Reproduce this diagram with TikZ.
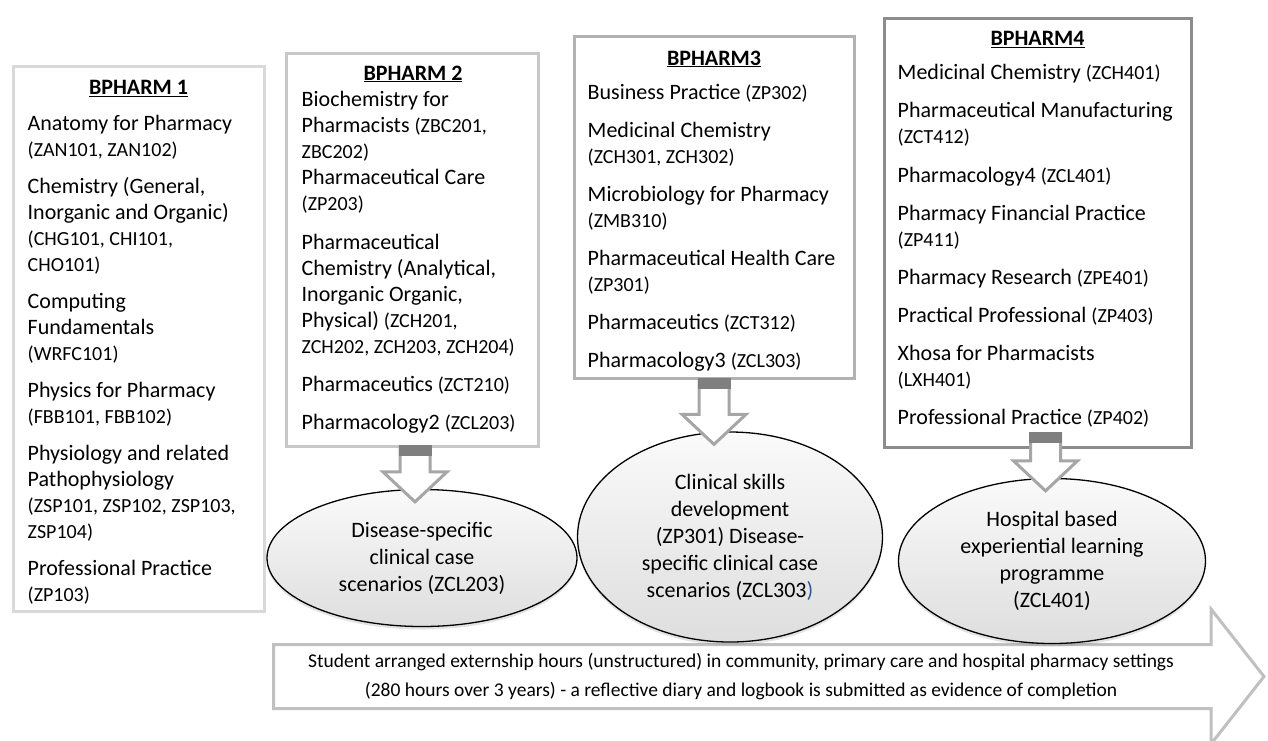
\documentclass[tikz,border=0pt]{standalone}
\usepackage{fontspec}
\setmainfont{Carlito}
\usepackage{tikz}
\usetikzlibrary{positioning, calc, shapes.geometric, shadows}
\definecolor{line_1}{HTML}{D9D9D9}
\definecolor{line_2}{HTML}{C8C8C8}
\definecolor{line_3}{HTML}{B2B2B2}
\definecolor{line_4}{HTML}{8C8C8C}
\definecolor{arrow_line}{HTML}{A6A6A6}
\definecolor{arrow_cap}{HTML}{7F7F7F}
\definecolor{banner_line}{HTML}{C0C0C0}
\definecolor{paren_blue}{HTML}{2E5C9A}
\newcommand{\code}[1]{{\fontsize{20}{26}\selectfont #1}}
\tikzset{
  body_font/.style = {font=\fontsize{22}{26}\selectfont},
  oval_font/.style = {font=\fontsize{22}{27}\selectfont},
  banner_font/.style = {font=\fontsize{19.5}{29}\selectfont}
}
\tikzset{
  year/.style = {draw, line width=3pt, fill=white, inner sep=0, anchor=north west},
  year_title/.style = {body_font, inner sep=0, anchor=north},
  subjects/.style = {body_font, align=left, inner sep=0, anchor=north west},
  outcome/.style = {ellipse, draw, line width=1.3pt, top color=gray!4, bottom color=gray!26,
    oval_font, align=center, inner sep=0,
    drop shadow={shadow xshift=0pt, shadow yshift=-3pt, opacity=.22}},
  block_arrow/.style = {draw=arrow_line, fill=white, line width=3pt},
  banner/.style = {banner_font, align=center, inner sep=0},
  banner_arrow/.style = {draw=banner_line, fill=white, line width=3pt}
}
% down arrow from a box (#1) into an oval (#2)
\newcommand{\blockarrow}[2]{%
  \draw[block_arrow] let \p1 = (#1), \p2 = (#2) in
    (\x1-15pt, \y1) -- (\x1-15pt, \y2+17pt) -- (\x1-32pt, \y2+17pt)
    -- (\x1, \y2-13pt) -- (\x1+32pt, \y2+17pt) -- (\x1+15pt, \y2+17pt)
    -- (\x1+15pt, \y1) -- cycle;
  \fill[arrow_cap] let \p1 = (#1) in
    (\x1-16.5pt, \y1+1.5pt) rectangle (\x1+16.5pt, \y1-9pt);
}
\begin{document}
\begin{tikzpicture}[x=1pt, y=-1pt]
    \useasboundingbox (0,0) rectangle (1268,740);

    % Externship arrow
    \draw[banner_arrow] (273.5,644.5) -- (1211,644.5) -- (1211,609) -- (1264,676.5)
        -- (1211,744) -- (1211,708.5) -- (273.5,708.5) -- cycle;
    \node[banner] at (741,677) (extern) {
        Student arranged externship hours (unstructured) in community, primary care and hospital pharmacy settings \\
        (280 hours over 3 years) - a reflective diary and logbook is submitted as evidence of completion
        };

    % Years
    \node[year, draw=line_1, minimum width=251, minimum height=545] at (11.5,64.5) (b1) {};
    \node[year, draw=line_2, minimum width=252, minimum height=393] at (284.5,51.5) (b2) {};
    \node[year, draw=line_3, minimum width=280, minimum height=342] at (572.5,34.5) (b3) {};
    \node[year, draw=line_4, minimum width=307, minimum height=429] at (882.5,16.5) (b4) {};

    % Titles
    \node[year_title] at ([yshift=-16pt]b1.north) (b1_title) {\underline{\textbf{BPHARM 1}}};
    \node[year_title] at ([xshift=1pt, yshift=-14pt]b2.north) (b2_title) {\underline{\textbf{BPHARM 2}}};
    \node[year_title] at ([yshift=-16pt]b3.north) (b3_title) {\underline{\textbf{BPHARM3}}};
    \node[year_title] at ([yshift=-15pt]b4.north) (b4_title) {\underline{\textbf{BPHARM4}}};

    % Subjects
    \node[subjects] at ([xshift=16pt, yshift=-51pt]b1.north west) (b1_list) {
        Anatomy for Pharmacy \\
        \code{(ZAN101, ZAN102)} \\[11pt]
        Chemistry (General, \\
        Inorganic and Organic) \\
        \code{(CHG101, CHI101,} \\
        \code{CHO101)} \\[11pt]
        Computing \\
        Fundamentals \\
        \code{(WRFC101)} \\[11pt]
        Physics for Pharmacy \\
        \code{(FBB101, FBB102)} \\[11pt]
        Physiology and related \\
        Pathophysiology \\
        \code{(ZSP101, ZSP102, ZSP103,} \\
        \code{ZSP104)} \\[11pt]
        Professional Practice \\
        \code{(ZP103)}
        };
    \node[subjects] at ([xshift=17pt, yshift=-40pt]b2.north west) (b2_list) {
        Biochemistry for \\
        Pharmacists \code{(ZBC201,} \\
        \code{ZBC202)} \\
        Pharmaceutical Care \\
        \code{(ZP203)} \\[13pt]
        Pharmaceutical \\
        Chemistry (Analytical, \\
        Inorganic Organic, \\
        Physical) \code{(ZCH201,} \\
        \code{ZCH202, ZCH203, ZCH204)} \\[12pt]
        Pharmaceutics \code{(ZCT210)} \\[12pt]
        Pharmacology2 \code{(ZCL203)}
        };
    \node[subjects] at ([xshift=15pt, yshift=-50pt]b3.north west) (b3_list) {
        Business Practice \code{(ZP302)} \\[12pt]
        Medicinal Chemistry \\
        \code{(ZCH301, ZCH302)} \\[12pt]
        Microbiology for Pharmacy \\
        \code{(ZMB310)} \\[12pt]
        Pharmaceutical Health Care \\
        \code{(ZP301)} \\[12pt]
        Pharmaceutics \code{(ZCT312)} \\[12pt]
        Pharmacology3 \code{(ZCL303)}
        };
    \node[subjects] at ([xshift=15pt, yshift=-48pt]b4.north west) (b4_list) {
        Medicinal Chemistry \code{(ZCH401)} \\[12pt]
        Pharmaceutical Manufacturing \\
        \code{(ZCT412)} \\[13pt]
        Pharmacology4 \code{(ZCL401)} \\[12pt]
        Pharmacy Financial Practice \\
        \code{(ZP411)} \\[12pt]
        Pharmacy Research \code{(ZPE401)} \\[12pt]
        Practical Professional \code{(ZP403)} \\[12pt]
        Xhosa for Pharmacists \\
        \code{(LXH401)} \\[12pt]
        Professional Practice \code{(ZP402)}
        };

    % Outcomes
    \node[outcome, minimum width=310, minimum height=137] at (422,558) (e1) {
        Disease-specific \\ clinical case \\ scenarios (ZCL203)};
    \node[outcome, minimum width=305, minimum height=210] at (730,537) (e2) {
        Clinical skills \\ development \\ (ZP301) Disease- \\ specific clinical case \\
        scenarios (ZCL303\textcolor{paren_blue}{)}};
    \node[outcome, minimum width=307, minimum height=165] at (1052,561) (e3) {
        Hospital based \\ experiential learning \\ programme \\ (ZCL401)};

    % Arrows
    \blockarrow{[xshift=3pt, yshift=1pt]b2.south}{e1.north}
    \blockarrow{b3.south}{e2.north}
    \blockarrow{[xshift=8pt, yshift=15pt]b4.south}{e3.north}
\end{tikzpicture}
\end{document}
